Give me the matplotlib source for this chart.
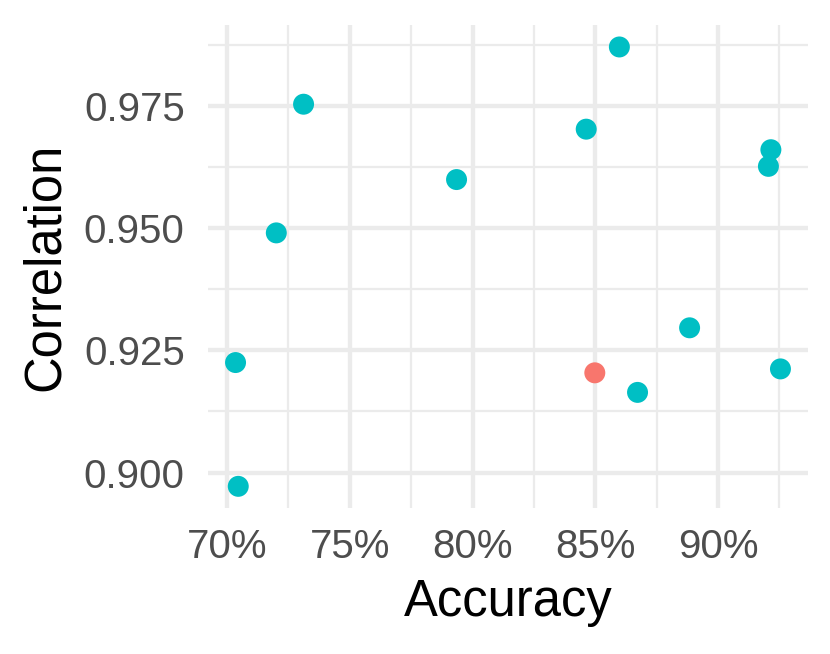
import matplotlib
matplotlib.use("Agg")
import matplotlib.pyplot as plt
from matplotlib.ticker import FixedLocator, PercentFormatter, FormatStrFormatter

plt.rcParams['font.family'] = ['Liberation Sans', 'DejaVu Sans']

# Data
accuracy = [0.7046, 0.7035, 0.7201, 0.7312, 0.7935, 0.8463, 0.8598, 0.8498,
            0.8672, 0.8884, 0.9215, 0.9205, 0.9254]
correlation = [0.8972, 0.9225, 0.9490, 0.9753, 0.9599, 0.9702, 0.9870, 0.9204,
               0.9164, 0.9296, 0.9660, 0.9626, 0.9212]
group = ['B', 'B', 'B', 'B', 'B', 'B', 'B', 'A', 'B', 'B', 'B', 'B', 'B']
group_colors = {'A': '#F8766D', 'B': '#00BFC4'}

x_major = [0.70, 0.75, 0.80, 0.85, 0.90]
x_minor = [0.725, 0.775, 0.825, 0.875, 0.925]
y_major = [0.900, 0.925, 0.950, 0.975]
y_minor = [0.9125, 0.9375, 0.9625, 0.9875]

fig = plt.figure(figsize=(8.3, 6.54), dpi=100)
ax = fig.add_axes([208.3 / 830, 1 - 508.3 / 654, (807.7 - 208.3) / 830, (508.3 - 25) / 654])

ax.scatter(accuracy, correlation, c=[group_colors[g] for g in group], s=228,
           linewidths=0, zorder=3)

xr = max(accuracy) - min(accuracy)
yr = max(correlation) - min(correlation)
ax.set_xlim(min(accuracy) - 0.05 * xr, max(accuracy) + 0.05 * xr)
ax.set_ylim(min(correlation) - 0.05 * yr, max(correlation) + 0.05 * yr)

ax.xaxis.set_major_locator(FixedLocator(x_major))
ax.xaxis.set_minor_locator(FixedLocator(x_minor))
ax.yaxis.set_major_locator(FixedLocator(y_major))
ax.yaxis.set_minor_locator(FixedLocator(y_minor))
ax.xaxis.set_major_formatter(PercentFormatter(xmax=1, decimals=0))
ax.yaxis.set_major_formatter(FormatStrFormatter('%.3f'))

ax.grid(which='major', color='#EBEBEB', linewidth=3.1, zorder=0)
ax.grid(which='minor', color='#EBEBEB', linewidth=1.6, zorder=0)
ax.set_axisbelow(True)
for s in ax.spines.values():
    s.set_visible(False)

ax.tick_params(which='both', length=0)
ax.tick_params(axis='x', which='major', labelsize=29, labelcolor='#4D4D4D', pad=14)
ax.tick_params(axis='y', which='major', labelsize=29, labelcolor='#4D4D4D', pad=17)

ax.set_xlabel('Accuracy', fontsize=36.5, color='black', labelpad=9)
ax.set_ylabel('Correlation', fontsize=36.5, color='black', labelpad=10)

fig.savefig('out.png', dpi=100, facecolor='white')
